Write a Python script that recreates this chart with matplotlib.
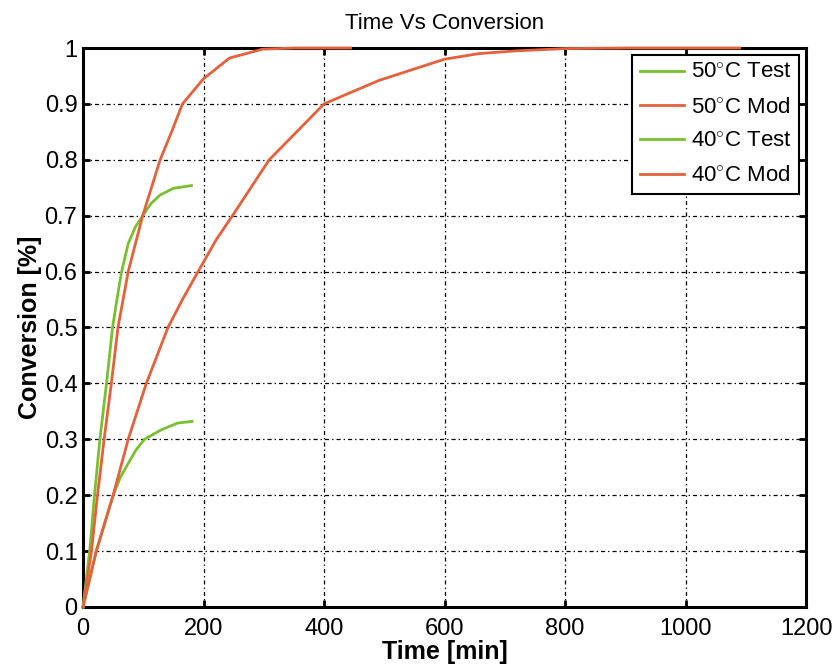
import matplotlib.pyplot as plt

plt.rcParams['font.family'] = ['Liberation Sans', 'DejaVu Sans']
plt.rcParams['mathtext.fontset'] = 'custom'
plt.rcParams['mathtext.rm'] = 'Liberation Sans'

GREEN = '#78c12e'
ORANGE = '#e5603b'

# values
t_50_test = [0, 11, 19, 28, 39, 49, 57, 64, 75, 87, 99, 113, 128, 150, 180]
c_50_test = [0, 0.10, 0.20, 0.30, 0.40, 0.50, 0.555, 0.60, 0.65, 0.68, 0.70, 0.722, 0.737, 0.749, 0.754]

t_50_mod = [0, 14, 24, 35, 47, 58, 75, 99, 128, 147, 165, 200, 243, 298, 350, 444]
c_50_mod = [0, 0.10, 0.20, 0.30, 0.40, 0.50, 0.60, 0.70, 0.80, 0.85, 0.90, 0.945, 0.982, 0.998, 1.0, 1.0]

t_40_test = [0, 22, 50, 62, 75, 88, 102, 130, 157, 181]
c_40_test = [0, 0.10, 0.20, 0.232, 0.257, 0.281, 0.30, 0.317, 0.329, 0.332]

t_40_mod = [0, 22, 50, 75, 105, 141, 165, 191, 221, 248, 309, 350, 400, 491, 600, 657, 720, 800, 900, 1090]
c_40_mod = [0, 0.10, 0.20, 0.30, 0.40, 0.50, 0.55, 0.60, 0.657, 0.70, 0.80, 0.845, 0.90, 0.942, 0.980, 0.990, 0.995, 0.999, 1.0, 1.0]

xticks = [0, 200, 400, 600, 800, 1000, 1200]
yticks = [0, 0.1, 0.2, 0.3, 0.4, 0.5, 0.6, 0.7, 0.8, 0.9, 1]
ytick_labels = ['0', '0.1', '0.2', '0.3', '0.4', '0.5', '0.6', '0.7', '0.8', '0.9', '1']

fig = plt.figure(figsize=(8.37, 6.67), dpi=100)
ax = fig.add_axes([0.0992, 0.09, 0.8638, 0.838])

ax.plot(t_50_test, c_50_test, color=GREEN, lw=2, label='50$^{\\circ}$C Test', zorder=3, clip_on=False)
ax.plot(t_50_mod, c_50_mod, color=ORANGE, lw=2, label='50$^{\\circ}$C Mod', zorder=3, clip_on=False)
ax.plot(t_40_test, c_40_test, color=GREEN, lw=2, label='40$^{\\circ}$C Test', zorder=3, clip_on=False)
ax.plot(t_40_mod, c_40_mod, color=ORANGE, lw=2, label='40$^{\\circ}$C Mod', zorder=3, clip_on=False)

ax.set_xlim(0, 1200)
ax.set_ylim(0, 1)
ax.set_xticks(xticks)
ax.set_yticks(yticks)
ax.set_yticklabels(ytick_labels)
ax.tick_params(direction='in', length=5, width=2, top=True, right=True,
               labelsize=17)
ax.tick_params(axis='x', pad=8)
ax.tick_params(axis='y', pad=4)
for s in ax.spines.values():
    s.set_linewidth(2.2)

ax.grid(True, color='black', lw=0.9, linestyle=(0, (3.3, 2.4, 1.1, 2.4)))

ax.set_title('Time Vs Conversion', fontsize=16, pad=14)
ax.set_xlabel('Time [min]', fontsize=18, fontweight='bold', labelpad=0)
ax.set_ylabel('Conversion [%]', fontsize=18, fontweight='bold', labelpad=2)

leg = ax.legend(loc='upper right', fontsize=16, fancybox=False, framealpha=1,
                edgecolor='black', handlelength=2.0, borderaxespad=0.3,
                labelspacing=0.6, handletextpad=0.3, borderpad=0.35)
leg.get_frame().set_linewidth(1.5)
leg.set_zorder(5)

plt.savefig('out.png')
